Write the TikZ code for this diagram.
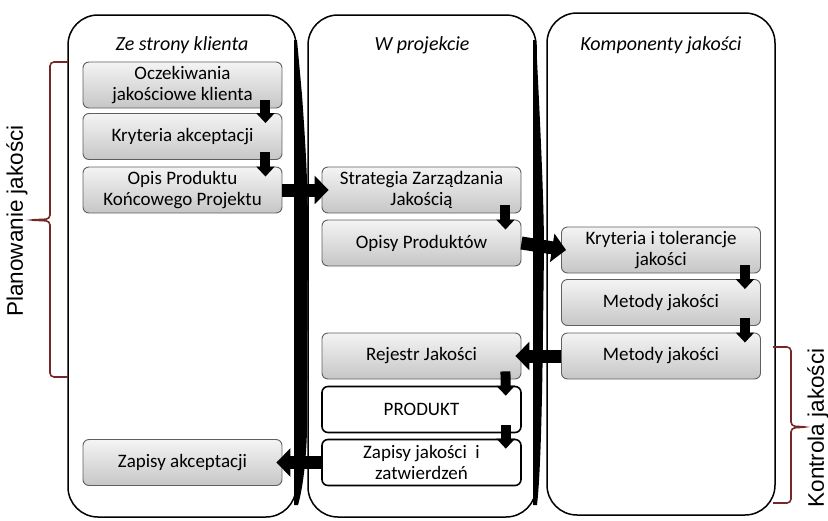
\documentclass[tikz,border=0pt]{standalone}
\usepackage{fontspec}
\setmainfont{Carlito}
\newfontfamily\labelfont{Liberation Sans}
\usetikzlibrary{arrows.meta}

\definecolor{braceRed}{RGB}{118,40,40}
\definecolor{boxEdge}{RGB}{95,95,95}
\definecolor{boxTop}{RGB}{244,244,244}
\definecolor{boxBottom}{RGB}{198,198,198}

\tikzset{
  lane/.style={draw=black, line width=1.5pt, rounded corners=30pt},
  lanehead/.style={font=\fontsize{20}{22}\selectfont\itshape},
  graybox/.style={draw=boxEdge, line width=0.9pt, rounded corners=6pt,
    top color=boxTop, bottom color=boxBottom,
    minimum width=199pt, minimum height=46pt, inner sep=1pt,
    align=center, font=\fontsize{19}{21}\selectfont},
  whitebox/.style={graybox, draw=black, line width=1.6pt, fill=white,
    top color=white, bottom color=white},
  downarrow/.style={line width=10pt, -{Triangle[width=18pt,length=10pt]}},
  sidearrow/.style={line width=13pt, -{Triangle[width=28pt,length=14pt]}},
  bracket/.style={draw=braceRed, line width=1.6pt, rounded corners=4pt},
  sidelabel/.style={rotate=90, font=\labelfont\fontsize{22.5}{24}\selectfont}
}

\begin{document}
\begin{tikzpicture}[x=1pt, y=-1pt]
\useasboundingbox (0,0) rectangle (828,520);

% swim lanes
\draw[lane] (68,15) rectangle (296,517);
\draw[lane] (308,15) rectangle (536,517);
\draw[lane] (547,13) rectangle (775,515);

% heavy dividers along the right side of the first two lanes
\fill[black] (294,40) -- (297,40) -- (302,95) .. controls (306,150) and (308,190) .. (308,230)
  -- (307,430) .. controls (306,470) and (301,495) .. (298,505) -- (294,505) -- cycle;
\fill[black] (533,40) -- (536,40) .. controls (540,120) and (544,200) .. (544,250)
  -- (543,330) .. controls (542,420) and (540,480) .. (537,505) -- (533,505) -- cycle;

% lane headings
\node[lanehead] (h1) at (182,45) {Ze strony klienta};
\node[lanehead] (h2) at (422,45) {W projekcie};
\node[lanehead] (h3) at (661,45) {Komponenty jakości};

% client lane
\node[graybox] (oczek) at (182.5,85) {Oczekiwania\\jakościowe klienta};
\node[graybox] (krytA) at (182.5,136.5) {Kryteria akceptacji};
\node[graybox] (opisP) at (182.5,190) {Opis Produktu\\Końcowego Projektu};
\node[graybox] (zapA) at (182.5,462.5) {Zapisy akceptacji};

% project lane
\node[graybox] (strat) at (421.5,190) {Strategia Zarządzania\\Jakością};
\node[graybox] (opisy) at (421.5,243) {Opisy Produktów};
\node[graybox] (rejestr) at (421.5,356) {Rejestr Jakości};
\node[whitebox] (produkt) at (421.5,409.5) {PRODUKT};
\node[whitebox] (zapJ) at (421.5,462.5) {Zapisy jakości\ \ i\\zatwierdzeń};

% quality components lane
\node[graybox] (krytT) at (661,250) {Kryteria i tolerancje\\jakości};
\node[graybox] (met1) at (661,302.5) {Metody jakości};
\node[graybox] (met2) at (661,356) {Metody jakości};

% downward links inside lanes
\draw[downarrow] ([xshift=-17pt,yshift=8pt]oczek.south east) -- ([xshift=-17pt,yshift=-10pt]krytA.north east);
\draw[downarrow] ([xshift=-17pt,yshift=8pt]krytA.south east) -- ([xshift=-17pt,yshift=-10pt]opisP.north east);
\draw[downarrow] ([xshift=-16pt,yshift=8pt]strat.south east) -- ([xshift=-16pt,yshift=-10pt]opisy.north east);
\draw[downarrow] ([xshift=-16pt,yshift=8pt]rejestr.south east) -- ([xshift=-16pt,yshift=-10pt]produkt.north east);
\draw[downarrow] ([xshift=-16pt,yshift=8pt]produkt.south east) -- ([xshift=-16pt,yshift=-10pt]zapJ.north east);
\draw[downarrow] ([xshift=-16pt,yshift=8pt]krytT.south east) -- ([xshift=-16pt,yshift=-10pt]met1.north east);
\draw[downarrow] ([xshift=-16pt,yshift=8pt]met1.south east) -- ([xshift=-16pt,yshift=-10pt]met2.north east);

% links across lanes
\draw[sidearrow] (opisP.east) -- ([xshift=7pt]strat.west);
\draw[sidearrow] (opisy.east) -- ([xshift=5pt]krytT.west);
\draw[sidearrow] (met2.west) -- ([xshift=-6pt]rejestr.east);
\draw[sidearrow] (zapJ.west) -- ([xshift=-6pt]zapA.east);

% phase brackets
\coordinate (pTop) at (68,62);
\coordinate (pBot) at (68,377);
\draw[bracket] (pTop) -- (50,62) -- (50,219) -- (30,220) -- (50,221) -- (50,377) -- (pBot);
\node[sidelabel] (plan) at (17,221) {Planowanie jakości};

\coordinate (kTop) at (773,347);
\coordinate (kBot) at (773,503);
\draw[bracket] (kTop) -- (791,347) -- (791,426) -- (807,427) -- (791,428) -- (791,503) -- (kBot);
\node[sidelabel] (kontr) at (818,428) {Kontrola jakości};
\end{tikzpicture}
\end{document}
